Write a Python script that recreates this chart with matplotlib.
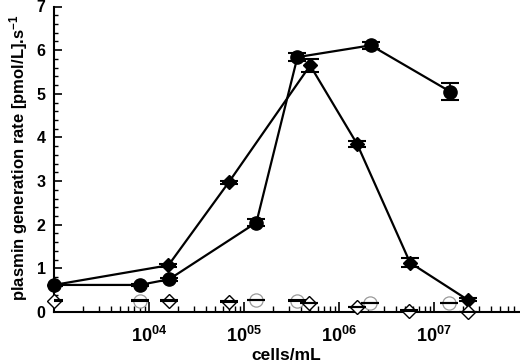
import numpy as np
import matplotlib
matplotlib.use("Agg")
from matplotlib import pyplot as plt
from matplotlib.ticker import LogLocator, MultipleLocator, NullFormatter

plt.rcParams['font.family'] = ['Liberation Sans', 'DejaVu Sans']
plt.rcParams['font.weight'] = 'bold'
plt.rcParams['mathtext.fontset'] = 'custom'
plt.rcParams['mathtext.rm'] = 'Liberation Sans:bold'
plt.rcParams['mathtext.it'] = 'Liberation Sans:bold'
plt.rcParams['mathtext.bf'] = 'Liberation Sans:bold'

# filled circles
circ_cells = [1e3, 8.0e3, 1.63e4, 1.35e5, 3.65e5, 2.16e6, 1.48e7]
circ_rate = [0.62, 0.62, 0.75, 2.05, 5.84, 6.11, 5.05]
circ_err = [0.03, 0.03, 0.04, 0.08, 0.10, 0.08, 0.20]

# filled diamonds
diam_cells = [1e3, 1.6e4, 6.9e4, 4.97e5, 1.55e6, 5.6e6, 2.26e7]
diam_rate = [0.62, 1.07, 2.97, 5.65, 3.85, 1.13, 0.28]
diam_err = [0.03, 0.03, 0.03, 0.15, 0.06, 0.11, 0.03]

# open diamonds (controls)
odiam_cells = [1e3, 1.63e4, 6.9e4, 4.85e5, 1.53e6, 5.5e6, 2.3e7]
odiam_rate = [0.26, 0.26, 0.24, 0.20, 0.11, 0.03, 0.0]

# open grey circles (controls)
ocirc_cells = [8.0e3, 1.35e5, 3.6e5, 2.1e6, 1.45e7]
ocirc_rate = [0.26, 0.27, 0.26, 0.21, 0.20]

xtick_vals = [1e4, 1e5, 1e6, 1e7]
xtick_labels = ['$10^{04}$', '$10^{05}$', '$10^{06}$', '$10^{07}$']

fig = plt.figure(figsize=(5.2, 3.61), dpi=100)
ax = fig.add_axes((54 / 520, 49 / 361, 465 / 520, 305.5 / 361))

cap = dict(fmt='none', ecolor='black', elinewidth=1.3, capsize=6.5, capthick=1.5)

ax.errorbar(circ_cells, circ_rate, yerr=circ_err, zorder=2, **cap)
ax.plot(circ_cells, circ_rate, '-o', color='black', lw=1.6, ms=9.5, clip_on=False, zorder=3)

ax.errorbar(diam_cells, diam_rate, yerr=diam_err, zorder=2, **cap)
ax.plot(diam_cells, diam_rate, '-D', color='black', lw=1.6, ms=7.5, clip_on=False, zorder=3)

ax.plot(ocirc_cells, ocirc_rate, 'o', mfc='white', mec='#9a9a9a', mew=0.9, ms=9.5, ls='none', clip_on=False, zorder=3)
ax.errorbar(ocirc_cells, ocirc_rate, yerr=[0.005] * len(ocirc_rate), zorder=4, **cap)

ax.plot(odiam_cells, odiam_rate, 'D', mfc='white', mec='black', mew=1.0, ms=7.5, ls='none', clip_on=False, zorder=3)
ax.errorbar(odiam_cells, odiam_rate, yerr=[0.005] * len(odiam_rate), zorder=4, **cap)

ax.set_xscale('log')
ax.set_xlim(1e3, 10 ** (3 + 465 / 95))
ax.set_ylim(0, 7)

ax.set_xticks(xtick_vals)
ax.set_xticklabels(xtick_labels, fontsize=13)
ax.xaxis.set_minor_locator(LogLocator(base=10, subs=np.arange(2, 10)))
ax.xaxis.set_minor_formatter(NullFormatter())
ax.yaxis.set_major_locator(MultipleLocator(1))
ax.yaxis.set_minor_locator(MultipleLocator(0.2))
ax.tick_params(axis='y', which='major', direction='in', length=6, width=1.2, labelsize=11.5, pad=6)
ax.tick_params(axis='y', which='minor', direction='in', length=3, width=1.0)
ax.tick_params(axis='x', which='major', direction='in', length=7, width=1.2, pad=10)
ax.tick_params(axis='x', which='minor', direction='in', length=4, width=1.0)

for s in ['top', 'right']:
    ax.spines[s].set_visible(False)
for s in ['left', 'bottom']:
    ax.spines[s].set_linewidth(1.5)

fig.text(286.5 / 520, 1.5 / 361, 'cells/mL', fontsize=12.5, fontweight='bold',
         ha='center', va='baseline')
fig.text(19 / 520, (361 - 158) / 361, 'plasmin generation rate [pmol/L].s$^{-1}$', fontsize=12,
         fontweight='bold', rotation=90, rotation_mode='anchor', ha='center', va='center')

fig.savefig('out.png', dpi=100)
